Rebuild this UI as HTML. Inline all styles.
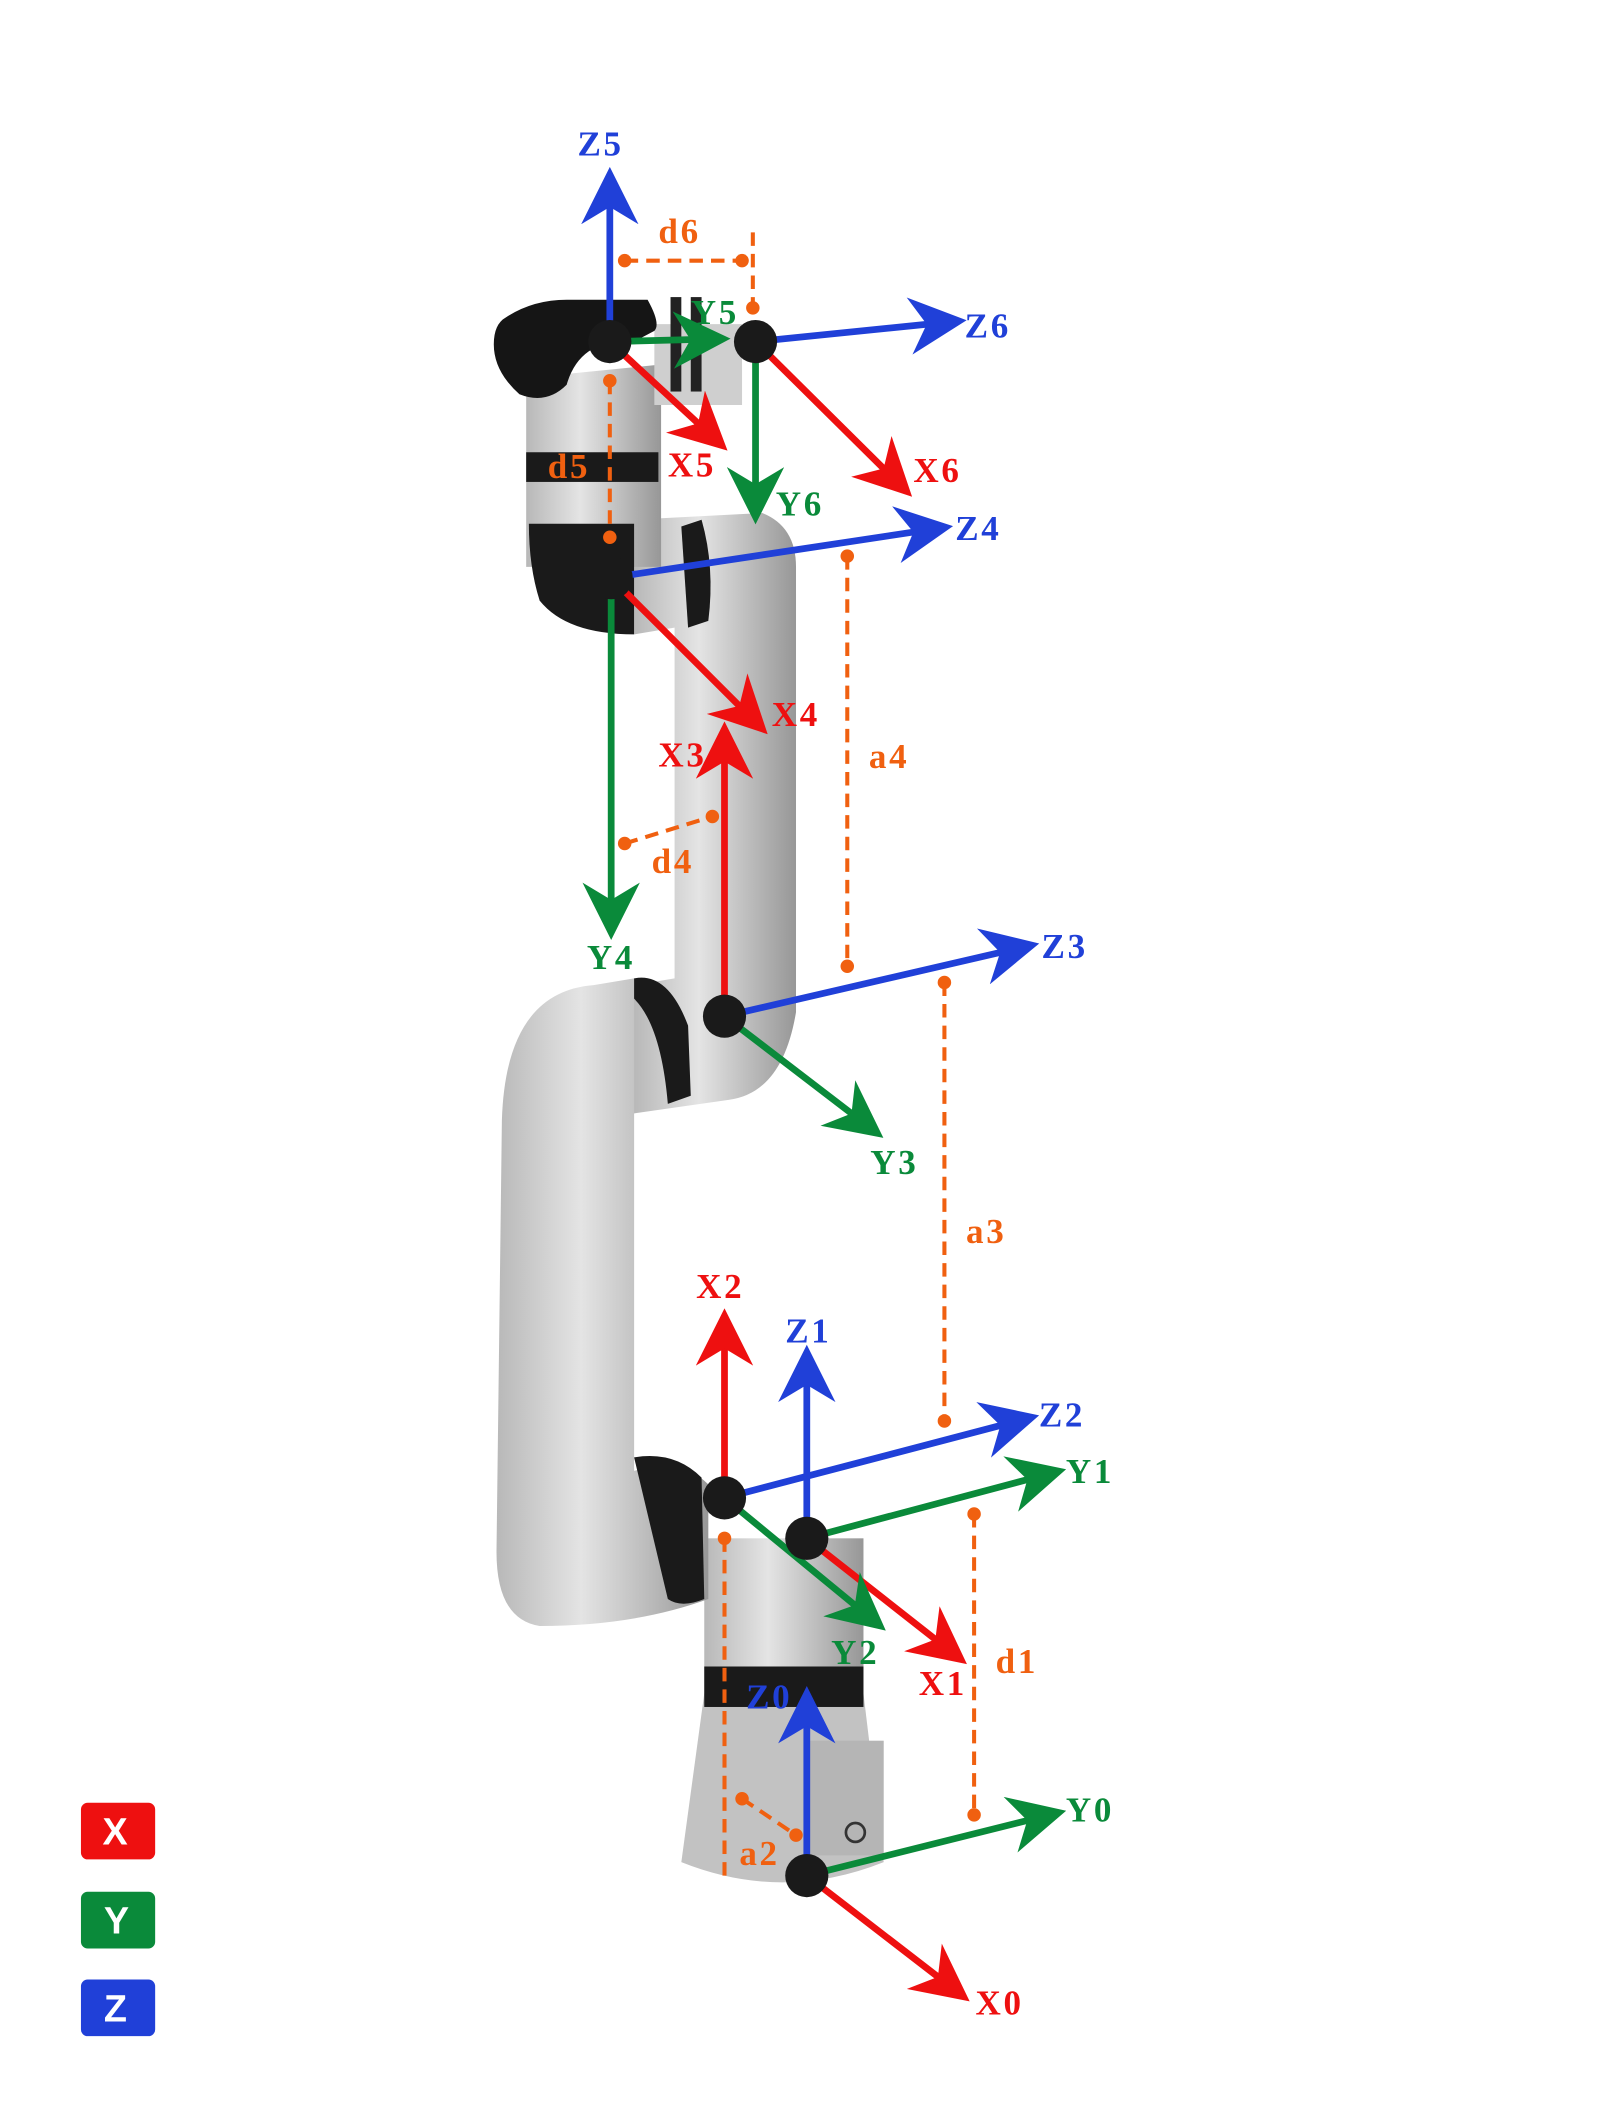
<!DOCTYPE html>
<html><head><meta charset="utf-8"><style>
html,body{margin:0;padding:0;background:#fff;}
svg{display:block;}
text{font-family:"Liberation Serif",serif;font-weight:bold;font-size:26px;letter-spacing:2px;}
.l{font-family:"Liberation Sans",sans-serif;font-size:28px;fill:#fff;letter-spacing:0;}
</style></head><body>
<svg width="1619" height="2112" viewBox="0 0 1200 1565" xmlns="http://www.w3.org/2000/svg">
<defs>
<marker id="ar" viewBox="0 0 10 10" refX="8" refY="5" markerWidth="8.5" markerHeight="8.5" markerUnits="strokeWidth" orient="auto">
<path d="M0,0 L10,5 L0,10 L3,5 Z" fill="context-stroke"/>
</marker>
<linearGradient id="g" x1="0" x2="1"><stop offset="0" stop-color="#b8b8b8"/><stop offset="0.4" stop-color="#e4e4e4"/><stop offset="1" stop-color="#979797"/></linearGradient>
</defs>
<g fill="url(#g)">
<path d="M505,1380 L522,1255 L640,1255 L655,1380 Q580,1410 505,1380 Z" fill="#c2c2c2"/>
<rect x="522" y="1140" width="118" height="120"/>
<path d="M470,1090 Q505,1080 525,1100 L525,1185 Q470,1205 400,1205 Q368,1200 368,1150 L372,830 Q375,735 440,730 L470,725 Q500,730 510,760 L510,810 L470,825 Z"/>
<path d="M500,420 L560,405 Q590,410 590,440 L590,750 Q580,810 540,815 L470,825 L470,730 L500,725 Z"/>
<path d="M470,385 L565,380 Q590,390 590,420 L590,460 L500,465 L470,470 Z"/>
<path d="M390,280 L490,270 L490,420 L390,420 Z"/>
<path d="M485,240 L550,240 L550,300 L485,300 Z" fill="#cfcfcf"/>
</g>
<rect x="522" y="1235" width="118" height="30" fill="#1a1a1a"/>
<path d="M470,1080 Q500,1075 520,1095 L522,1185 Q505,1192 495,1185 Z" fill="#1a1a1a"/>
<path d="M470,725 Q495,720 510,760 L512,812 L495,818 Q490,760 470,740 Z" fill="#1a1a1a"/>
<path d="M505,390 L520,385 Q530,420 525,460 L510,465 Z" fill="#1a1a1a"/>
<rect x="390" y="335" width="98" height="22" fill="#1a1a1a"/>
<path d="M392,388 L470,388 L470,470 Q420,470 400,445 Q392,420 392,388 Z" fill="#1a1a1a"/>
<path d="M375,235 Q395,222 420,222 L480,222 Q490,240 485,245 L470,253 Q430,250 420,285 Q405,300 385,292 Q366,275 366,255 Q366,240 375,235 Z" fill="#151515"/>
<rect x="497" y="220" width="8" height="70" fill="#222"/><rect x="512" y="220" width="8" height="70" fill="#222"/>
<rect x="600" y="1290" width="55" height="85" fill="#b5b5b5"/>
<circle cx="634" cy="1358" r="7" fill="none" stroke="#333" stroke-width="2"/>
<g stroke="#f06010" stroke-width="3" stroke-dasharray="10,6" fill="none">
<path d="M463,193 L550,193 M558,172 L558,228"/>
<path d="M452,282 L452,398"/>
<path d="M628,412 L628,716"/>
<path d="M700,728 L700,1053"/>
<path d="M722,1122 L722,1345"/>
<path d="M463,625 L528,605"/>
<path d="M537,1140 L537,1390 M550,1333 L590,1360"/>
</g>
<g fill="#f06010">
<circle cx="463" cy="193" r="5"/><circle cx="550" cy="193" r="5"/><circle cx="558" cy="228" r="5"/>
<circle cx="452" cy="282" r="5"/><circle cx="452" cy="398" r="5"/>
<circle cx="628" cy="412" r="5"/><circle cx="628" cy="716" r="5"/>
<circle cx="700" cy="728" r="5"/><circle cx="700" cy="1053" r="5"/>
<circle cx="722" cy="1122" r="5"/><circle cx="722" cy="1345" r="5"/>
<circle cx="463" cy="625" r="5"/><circle cx="528" cy="605" r="5"/>
<circle cx="537" cy="1140" r="5"/><circle cx="550" cy="1333" r="5"/><circle cx="590" cy="1360" r="5"/>
</g>
<g stroke-width="5" fill="none" marker-end="url(#ar)">
<path d="M598,1390 L598,1258" stroke="#2040d8"/>
<path d="M598,1390 L782,1344" stroke="#0a8a3a"/>
<path d="M598,1390 L712,1478" stroke="#ee1010"/>
<path d="M598,1140 L598,1005" stroke="#2040d8"/>
<path d="M598,1140 L782,1091" stroke="#0a8a3a"/>
<path d="M598,1140 L710,1228" stroke="#ee1010"/>
<path d="M537,1110 L537,978" stroke="#ee1010"/>
<path d="M537,1110 L762,1051" stroke="#2040d8"/>
<path d="M537,1110 L650,1203" stroke="#0a8a3a"/>
<path d="M537,753 L537,543" stroke="#ee1010"/>
<path d="M537,753 L762,701" stroke="#2040d8"/>
<path d="M537,753 L648,838" stroke="#0a8a3a"/>
<path d="M453,428 L698,391" stroke="#2040d8"/>
<path d="M453,428 L563,538" stroke="#ee1010"/>
<path d="M453,428 L453,688" stroke="#0a8a3a"/>
<path d="M452,253 L452,132" stroke="#2040d8"/>
<path d="M452,253 L533,251" stroke="#0a8a3a"/>
<path d="M452,253 L533,328" stroke="#ee1010"/>
<path d="M560,253 L708,238" stroke="#2040d8"/>
<path d="M560,253 L670,362" stroke="#ee1010"/>
<path d="M560,253 L560,380" stroke="#0a8a3a"/>
</g>
<g fill="#1a1a1a">
<circle cx="598" cy="1390" r="16"/><circle cx="598" cy="1140" r="16"/><circle cx="537" cy="1110" r="16"/>
<circle cx="537" cy="753" r="16"/><circle cx="453" cy="428" r="16"/><circle cx="452" cy="253" r="16"/><circle cx="560" cy="253" r="16"/>
</g>
<g fill="#2040d8"><text x="428" y="115">Z5</text><text x="715" y="250">Z6</text><text x="708" y="400">Z4</text><text x="772" y="710">Z3</text><text x="770" y="1057">Z2</text><text x="582" y="995">Z1</text><text x="553" y="1266">Z0</text></g>
<g fill="#0a8a3a"><text x="512" y="240">Y5</text><text x="575" y="382">Y6</text><text x="435" y="718">Y4</text><text x="645" y="870">Y3</text><text x="790" y="1099">Y1</text><text x="616" y="1233">Y2</text><text x="790" y="1350">Y0</text></g>
<g fill="#ee1010"><text x="495" y="353">X5</text><text x="677" y="357">X6</text><text x="572" y="538">X4</text><text x="488" y="568">X3</text><text x="516" y="962">X2</text><text x="681" y="1256">X1</text><text x="723" y="1493">X0</text></g>
<g fill="#f06010"><text x="488" y="180">d6</text><text x="406" y="354">d5</text><text x="644" y="569">a4</text><text x="483" y="647">d4</text><text x="716" y="921">a3</text><text x="738" y="1240">d1</text><text x="548" y="1382">a2</text></g>
<rect x="60" y="1336" width="55" height="42" rx="5" fill="#ee1010"/><text class="l" x="76" y="1367">X</text>
<rect x="60" y="1402" width="55" height="42" rx="5" fill="#0a8a3a"/><text class="l" x="77" y="1433">Y</text>
<rect x="60" y="1467" width="55" height="42" rx="5" fill="#2040d8"/><text class="l" x="77" y="1498">Z</text>
</svg>
</body></html>
